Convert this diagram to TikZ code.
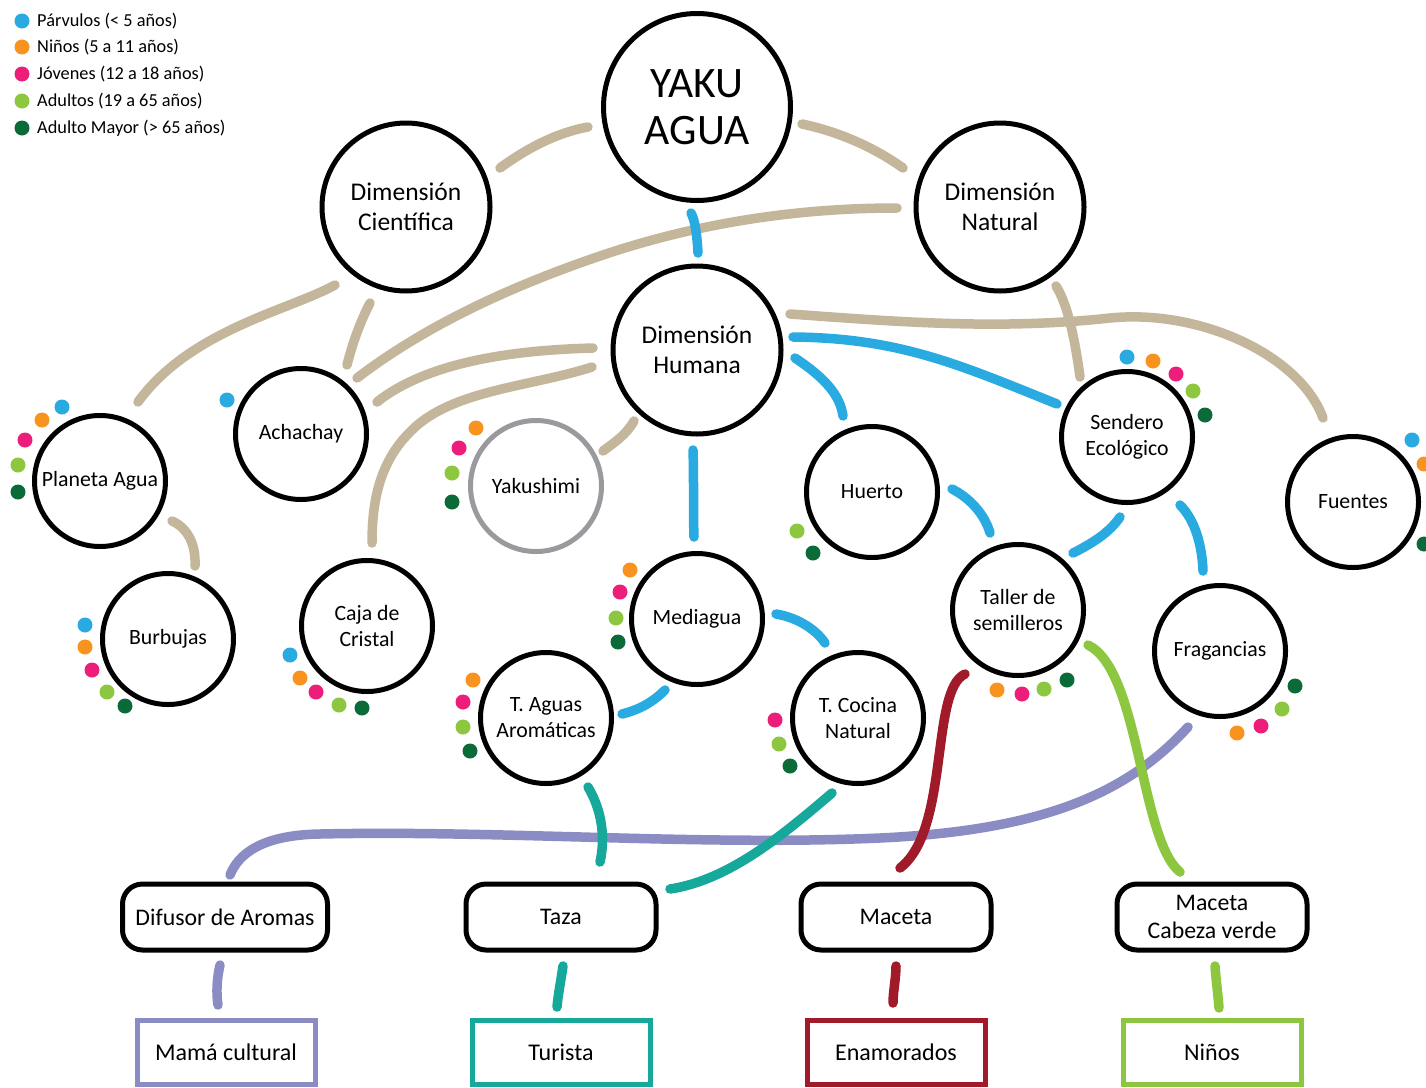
\documentclass[tikz,border=0pt]{standalone}
\usepackage{fontspec}
\setmainfont{Carlito}
\definecolor{ctan}{HTML}{C4B69B}
\definecolor{cblue}{HTML}{29ABE2}
\definecolor{cteal}{HTML}{16A89A}
\definecolor{cpur}{HTML}{8C8CC4}
\definecolor{cred}{HTML}{A11A2A}
\definecolor{clgreen}{HTML}{8DC63F}
\definecolor{corange}{HTML}{F7931E}
\definecolor{cpink}{HTML}{EC1E7A}
\definecolor{cdgreen}{HTML}{0B6B38}
\definecolor{cgray}{HTML}{9A9A9E}
\begin{document}
\begin{tikzpicture}[x=1pt,y=-1pt,
  hub/.style={circle, draw=black, line width=5pt, minimum size=168pt, inner sep=0pt,
    align=center, font=\fontsize{25.5}{30}\selectfont},
  act/.style={circle, draw=black, line width=5pt, minimum size=131pt, inner sep=0pt,
    align=center, font=\fontsize{21.8}{26}\selectfont},
  prod/.style={draw=black, rounded corners=20pt, line width=5pt, minimum height=66pt,
    minimum width=190pt, inner sep=0pt, align=center, font=\fontsize{23.8}{28}\selectfont},
  aud/.style={draw=#1, line width=5pt, minimum width=178pt, minimum height=64pt,
    inner sep=0pt, font=\fontsize{24}{28}\selectfont},
  legtxt/.style={anchor=west, inner sep=0pt, font=\fontsize{18.3}{21}\selectfont},
  tie/.style={draw=#1, line width=9.5pt, line cap=round}
]
\useasboundingbox (0,0) rectangle (1426,1087);
\clip (0,0) rectangle (1426,1087);
\fill[white] (0,0) rectangle (1426,1087);

% legend
\fill[cblue]   (22,21)  circle[radius=7.5pt];
\fill[corange] (22,47)  circle[radius=7.5pt];
\fill[cpink]   (22,74)  circle[radius=7.5pt];
\fill[clgreen] (22,101) circle[radius=7.5pt];
\fill[cdgreen] (22,128) circle[radius=7.5pt];
\node[legtxt] (lg1) at (37,21)  {Párvulos (< 5 años)};
\node[legtxt] (lg2) at (37,47)  {Niños (5 a 11 años)};
\node[legtxt] (lg3) at (37,74)  {Jóvenes (12 a 18 años)};
\node[legtxt] (lg4) at (37,101) {Adultos (19 a 65 años)};
\node[legtxt] (lg5) at (37,128) {Adulto Mayor (> 65 años)};

% dimensions
\node[hub, minimum size=187pt, font=\fontsize{43.5}{47}\selectfont] (yaku) at (697,107) {YAKU\\AGUA};
\node[hub] (sci) at (406,207) {Dimensión\\Científica};
\node[hub] (nat) at (1000,207) {Dimensión\\Natural};
\node[hub] (hum) at (697,350) {Dimensión\\Humana};

% activities
\node[act] (ach) at (301,434) {Achachay};
\node[act] (pla) at (100,481) {Planeta Agua};
\node[act, draw=cgray] (yak) at (536,486) {Yakushimi};
\node[act] (hue) at (872,492) {Huerto};
\node[act] (sen) at (1127,437) {Sendero\\Ecológico};
\node[act] (fue) at (1353,502) {Fuentes};
\node[act] (bur) at (168,639) {Burbujas};
\node[act] (caj) at (367,626) {Caja de\\Cristal};
\node[act] (med) at (697,619) {Mediagua};
\node[act] (tal) at (1018,610) {Taller de\\semilleros};
\node[act] (fra) at (1220,651) {Fragancias};
\node[act] (tag) at (546,718) {T. Aguas\\Aromáticas};
\node[act] (tco) at (858,718) {T. Cocina\\Natural};

% products
\node[prod, minimum width=205pt] (dif) at (225,917) {Difusor de Aromas};
\node[prod] (taz) at (561,917) {Taza};
\node[prod] (mac) at (896,917) {Maceta};
\node[prod] (mcv) at (1212,917) {Maceta\\Cabeza verde};

% audiences
\node[aud=cpur]    (mam) at (226,1052) {Mamá cultural};
\node[aud=cteal]   (tur) at (561,1052) {Turista};
\node[aud=cred]    (ena) at (896,1052) {Enamorados};
\node[aud=clgreen] (nin) at (1212,1052) {Niños};

% age-group dots
\foreach \c/\x/\y in {cblue/62/407, corange/42/420, cpink/25/440, clgreen/18/465, cdgreen/18/492,
  cblue/227/400,
  cblue/85/625, corange/85/647, cpink/92/670, clgreen/107/692, cdgreen/125/706,
  cblue/290/655, corange/300/678, cpink/316/692, clgreen/339/705, cdgreen/362/708,
  corange/476/428, cpink/459/448, clgreen/452/473, cdgreen/452/502,
  corange/630/570, cpink/620/592, clgreen/616/618, cdgreen/618/642,
  corange/473/680, cpink/463/702, clgreen/463/727, cdgreen/470/751,
  cpink/775/720, clgreen/779/744, cdgreen/790/766,
  clgreen/797/531, cdgreen/813/553,
  cblue/1127/357, corange/1153/361, cpink/1176/374, clgreen/1193/391, cdgreen/1205/415,
  cblue/1412/440, corange/1424/464, cdgreen/1424/544,
  corange/997/690, cpink/1022/694, clgreen/1044/689, cdgreen/1067/680,
  cdgreen/1295/686, clgreen/1282/709, cpink/1261/726, corange/1237/733}
  \fill[\c] (\x,\y) circle[radius=7.5pt];

% purple: aromas line
\draw[tie=cpur] ([shift={(-32,76)}]fra.center) .. controls (1130,790) and (1050,830) .. (880,838)
  .. controls (700,846) and (500,830) .. (320,834)
  .. controls (260,835) and (238,855) .. ([shift={(5,-42)}]dif.center);
\draw[tie=cpur] ([shift={(-5,48)}]dif.center) .. controls (217,978) and (216,992) .. ([shift={(-8,-47)}]mam.center);

% tan: dimension links
\draw[tie=ctan] ([shift={(94,-39)}]sci.center) .. controls (530,146) and (560,132) .. ([shift={(-109,20)}]yaku.center);
\draw[tie=ctan] ([shift={(105,17)}]yaku.center) .. controls (840,132) and (875,148) .. ([shift={(-97,-39)}]nat.center);
\draw[tie=ctan] ([shift={(-103,1)}]nat.center) .. controls (800,208) and (700,222) .. (600,256)
  .. controls (500,290) and (420,330) .. ([shift={(56,-56)}]ach.center);
\draw[tie=ctan] ([shift={(-36,96)}]sci.center) .. controls (360,322) and (352,345) .. ([shift={(46,-69)}]ach.center);
\draw[tie=ctan] ([shift={(-71,78)}]sci.center) .. controls (290,310) and (190,330) .. ([shift={(38,-79)}]pla.center);
\draw[tie=ctan] ([shift={(-104,-2)}]hum.center) .. controls (520,350) and (430,360) .. ([shift={(76,-32)}]ach.center);
\draw[tie=ctan] ([shift={(-105,17)}]hum.center) .. controls (530,387) and (450,390) .. (410,432)
  .. controls (380,462) and (372,500) .. ([shift={(5,-83)}]caj.center);
\draw[tie=ctan] ([shift={(-63,71)}]hum.center) .. controls (626,435) and (615,442) .. ([shift={(67,-35)}]yak.center);
\draw[tie=ctan] ([shift={(93,-36)}]hum.center) .. controls (900,322) and (1000,330) .. (1110,318)
  .. controls (1200,309) and (1300,355) .. ([shift={(-30,-84)}]fue.center);
\draw[tie=ctan] ([shift={(56,79)}]nat.center) .. controls (1068,305) and (1075,340) .. ([shift={(-47,-60)}]sen.center);
\draw[tie=ctan] ([shift={(72,40)}]pla.center) .. controls (188,528) and (196,545) .. ([shift={(27,-73)}]bur.center);

% blue links
\draw[tie=cblue] ([shift={(-6,106)}]yaku.center) .. controls (695,220) and (697,235) .. ([shift={(1,-97)}]hum.center);
\draw[tie=cblue] ([shift={(-4,100)}]hum.center) .. controls (694,480) and (693,510) .. ([shift={(-3,-82)}]med.center);
\draw[tie=cblue] ([shift={(98,8)}]hum.center) .. controls (825,378) and (840,395) .. ([shift={(-29,-76)}]hue.center);
\draw[tie=cblue] ([shift={(96,-13)}]hum.center) .. controls (900,338) and (960,365) .. ([shift={(-70,-33)}]sen.center);
\draw[tie=cblue] ([shift={(-32,71)}]med.center) .. controls (652,703) and (638,710) .. ([shift={(76,-4)}]tag.center);
\draw[tie=cblue] ([shift={(79,-5)}]med.center) .. controls (795,617) and (815,628) .. ([shift={(-33,-75)}]tco.center);
\draw[tie=cblue] ([shift={(80,-3)}]hue.center) .. controls (970,498) and (985,515) .. ([shift={(-28,-77)}]tal.center);
\draw[tie=cblue] ([shift={(-7,80)}]sen.center) .. controls (1110,532) and (1093,543) .. ([shift={(55,-57)}]tal.center);
\draw[tie=cblue] ([shift={(53,68)}]sen.center) .. controls (1195,520) and (1202,545) .. ([shift={(-17,-80)}]fra.center);

% teal: cup
\draw[tie=cteal] ([shift={(42,69)}]tag.center) .. controls (603,812) and (605,840) .. ([shift={(39,-55)}]taz.center);
\draw[tie=cteal] ([shift={(-26,75)}]tco.center) .. controls (785,833) and (730,880) .. ([shift={(109,-28)}]taz.center);
\draw[tie=cteal] ([shift={(2,49)}]taz.center) .. controls (561,980) and (558,995) .. ([shift={(-4,-45)}]tur.center);

% red: pot
\draw[tie=cred] ([shift={(-53,64)}]tal.center) .. controls (930,690) and (950,830) .. ([shift={(4,-49)}]mac.center);
\draw[tie=cred] ([shift={(0,49)}]mac.center) .. controls (896,978) and (893,992) .. ([shift={(-3,-49)}]ena.center);

% green: green-head pot
\draw[tie=clgreen] ([shift={(70,35)}]tal.center) .. controls (1140,670) and (1140,840) .. ([shift={(-32,-45)}]mcv.center);
\draw[tie=clgreen] ([shift={(3,49)}]mcv.center) .. controls (1216,980) and (1218,995) .. ([shift={(7,-44)}]nin.center);
\end{tikzpicture}
\end{document}
